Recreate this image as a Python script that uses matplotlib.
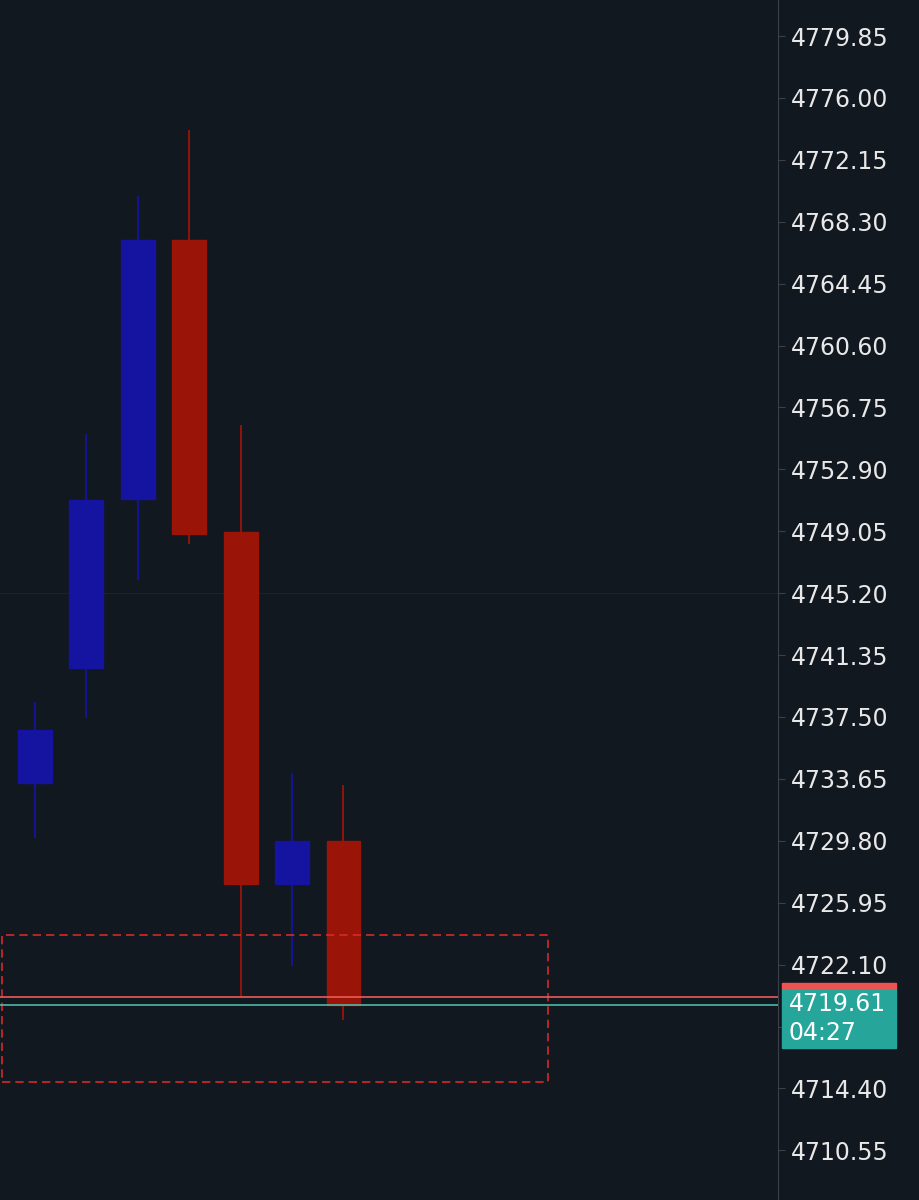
import matplotlib.pyplot as plt
from matplotlib.patches import Rectangle
import numpy as np

opens  = [4733.39, 4740.55, 4751.06, 4767.16, 4749.00, 4727.12, 4729.79]
closes = [4736.69, 4750.99, 4767.16, 4748.88, 4727.12, 4729.79, 4719.59]
highs  = [4738.43, 4755.10, 4769.90, 4774.00, 4755.66, 4734.02, 4733.27]
lows   = [4729.98, 4737.44, 4746.02, 4748.26, 4720.15, 4722.02, 4718.66]
ticks = [4779.85, 4776.00, 4772.15, 4768.30, 4764.45, 4760.60, 4756.75, 4752.90,
         4749.05, 4745.20, 4741.35, 4737.50, 4733.65, 4729.80, 4725.95, 4722.10,
         4718.25, 4714.40, 4710.55]
last_price = 4719.61
bid_price = 4720.09
zone_top, zone_bot = 4723.94, 4714.80

bg = '#121820'
up_col = '#1414a0'
dn_col = '#9a1408'

fig = plt.figure(figsize=(9.19, 12), dpi=100, facecolor=bg)
ax = fig.add_axes([0, 0, 778/919, 1])
ax.set_facecolor(bg)
ylo = 4779.85 - (1200 - 36) / 16.08
yhi = 4779.85 + 36 / 16.08
ax.set_ylim(ylo, yhi)
ax.set_xlim(-0.68, 14.45)

for i in range(len(opens)):
    c = up_col if closes[i] >= opens[i] else dn_col
    ax.vlines(i, lows[i], highs[i], color=c, lw=1.3, zorder=2)
    b = min(opens[i], closes[i])
    ax.add_patch(Rectangle((i - 0.33, b), 0.66, abs(closes[i] - opens[i]), color=c, zorder=3))

ax.add_patch(Rectangle((-0.64, zone_bot), 10.62, zone_top - zone_bot, fill=False,
                       edgecolor='#d42a2a', ls=(0, (5, 3)), lw=1.2, zorder=4))
ax.axhline(bid_price, color='#e85a5a', lw=1.2, zorder=4)
ax.axhline(last_price, color='#4fb8a8', lw=1.2, zorder=4)
ax.axhline(4745.20, color='#1c222c', lw=0.8, zorder=1)

for s in ['top', 'left', 'bottom']:
    ax.spines[s].set_visible(False)
ax.spines['right'].set_color('#3a404a')
ax.set_xticks([])
ax.yaxis.tick_right()
ax.set_yticks(ticks)
ax.set_yticklabels([f'{t:.2f}' for t in ticks])
ax.tick_params(axis='y', colors='#e8e8e8', labelsize=17, length=5, color='#3a404a', pad=4)
for lbl in ax.get_yticklabels():
    if abs(float(lbl.get_text()) - 4718.25) < 0.01:
        lbl.set_visible(False)

# price labels on the axis
fig.patches.append(Rectangle((782/919, 1 - 990/1200), 114/919, 7/1200,
                             transform=fig.transFigure, color='#ef5350', zorder=5))
fig.patches.append(Rectangle((782/919, 1 - 1048/1200), 114/919, 58/1200,
                             transform=fig.transFigure, color='#26a69a', zorder=6))
fig.text(789/919, 1 - 1004/1200, f'{last_price:.2f}', color='white', fontsize=17,
         va='center', zorder=7)
fig.text(789/919, 1 - 1033/1200, '04:27', color='white', fontsize=17, va='center', zorder=7)

fig.savefig('out.png', facecolor=bg)
